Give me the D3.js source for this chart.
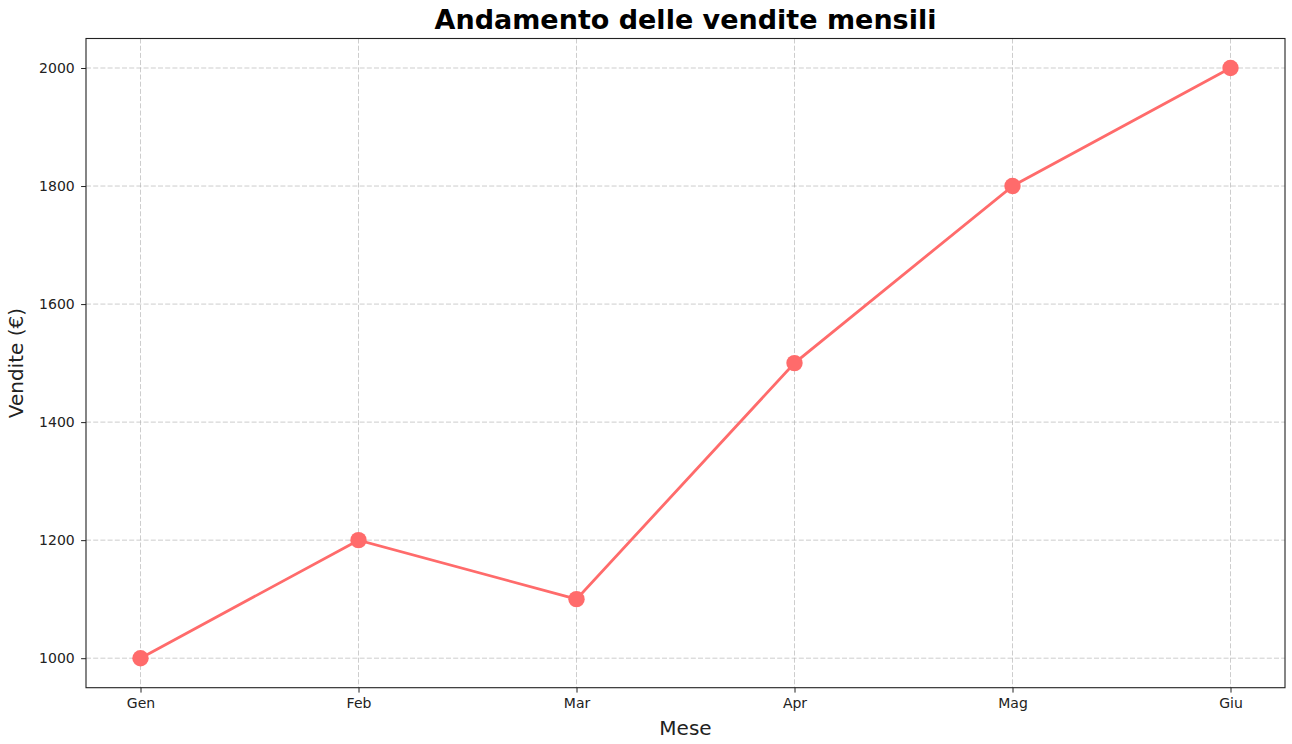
<!DOCTYPE html>
<html><head><meta charset="utf-8">
<script src="https://cdn.jsdelivr.net/npm/d3@7"></script>
<style>body{margin:0;background:#fff}svg{display:block}text{font-family:"DejaVu Sans",sans-serif}</style>
</head><body>
<script>
const months = ["Gen","Feb","Mar","Apr","Mag","Giu"];
const sales = [1000,1200,1100,1500,1800,2000];
const yTicks = [1000,1200,1400,1600,1800,2000];

const W=1292,H=744;
const m={left:86,top:38.5,right:1285,bottom:687.7};
const svg=d3.select("body").append("svg").attr("width",W).attr("height",H);
const x=d3.scaleLinear().domain([-0.25,5.25]).range([m.left,m.right]);
const y=d3.scaleLinear().domain([950,2050]).range([m.bottom,m.top]);

const g=svg.append("g");
// grid
g.selectAll(".gx").data(months).join("line")
 .attr("x1",(d,i)=>x(i)).attr("x2",(d,i)=>x(i)).attr("y1",m.top).attr("y2",m.bottom)
 .attr("stroke","#b0b0b0").attr("stroke-opacity",0.7).attr("stroke-width",0.9).attr("stroke-dasharray","5,2.2");
g.selectAll(".gy").data(yTicks).join("line")
 .attr("y1",d=>y(d)).attr("y2",d=>y(d)).attr("x1",m.left).attr("x2",m.right)
 .attr("stroke","#b0b0b0").attr("stroke-opacity",0.7).attr("stroke-width",0.9).attr("stroke-dasharray","5,2.2");

// axes
const xAxis=d3.axisBottom(x).tickValues(d3.range(months.length)).tickFormat(i=>months[i]).tickSize(4.9).tickPadding(5.4);
const yAxis=d3.axisLeft(y).tickValues(yTicks).tickFormat(d3.format("d")).tickSize(4.9).tickPadding(6.4);
const ax=svg.append("g").attr("transform",`translate(0,${m.bottom})`).call(xAxis);
const ay=svg.append("g").attr("transform",`translate(${m.left},0)`).call(yAxis);
[ax,ay].forEach(a=>{a.select(".domain").remove();a.selectAll("line").attr("stroke","#222").attr("stroke-width",1);
 a.selectAll("text").attr("font-size",14).attr("fill","#222").attr("font-family","DejaVu Sans");});

// frame
svg.append("rect").attr("x",m.left).attr("y",m.top).attr("width",m.right-m.left).attr("height",m.bottom-m.top)
 .attr("fill","none").attr("stroke","#222").attr("stroke-width",1.1);

// line
const line=d3.line().x((d,i)=>x(i)).y(d=>y(d));
svg.append("path").datum(sales).attr("d",line).attr("fill","none").attr("stroke","#ff6b6b").attr("stroke-width",2.8);
svg.selectAll(".pt").data(sales).join("circle").attr("cx",(d,i)=>x(i)).attr("cy",d=>y(d)).attr("r",8.2).attr("fill","#ff6b6b");

// labels
svg.append("text").attr("x",(m.left+m.right)/2).attr("y",29).attr("text-anchor","middle")
 .attr("font-size",27).attr("font-weight","bold").attr("fill","#000").text("Andamento delle vendite mensili");
svg.append("text").attr("x",(m.left+m.right)/2).attr("y",735).attr("text-anchor","middle")
 .attr("font-size",20).attr("fill","#222").text("Mese");
svg.append("text").attr("transform",`translate(23,${(m.top+m.bottom)/2}) rotate(-90)`).attr("text-anchor","middle")
 .attr("font-size",20).attr("fill","#222").text("Vendite (€)");
</script>
</body></html>
